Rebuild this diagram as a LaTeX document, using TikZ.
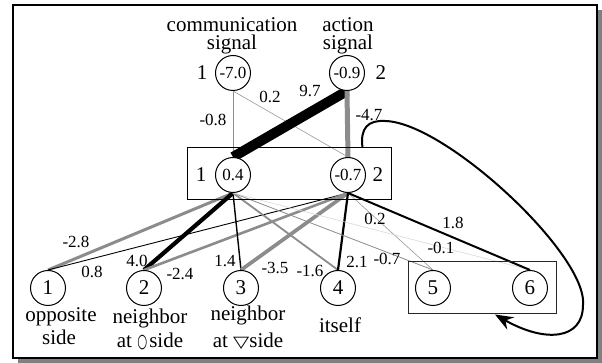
\documentclass[tikz,border=0pt]{standalone}
\usepackage{fontspec}
\setmainfont{Liberation Serif}
\newfontfamily\symfont{DejaVu Sans}
\usetikzlibrary{arrows.meta}
\pgfdeclarelayer{frame}
\pgfdeclarelayer{edges}
\pgfsetlayers{frame,edges,main}
\begin{document}
\begin{tikzpicture}[x=0.5pt,y=-0.5pt,
  neuron/.style={circle,draw,line width=0.5pt,fill=white,minimum size=17.5pt,
    inner sep=0pt,font=\fontsize{8.5}{10}\selectfont},
  inneuron/.style={neuron,font=\fontsize{10.5}{12}\selectfont},
  idx/.style={inner sep=0pt,font=\fontsize{10.5}{12}\selectfont},
  wlabel/.style={inner sep=0pt,font=\fontsize{8.5}{10}\selectfont},
  caption/.style={anchor=base,inner sep=0pt,font=\fontsize{10.5}{12}\selectfont},
  group/.style={draw,line width=0.5pt,inner sep=0pt,minimum height=26pt},
  pos/.style={draw=black,line width=#1},
  neg/.style={draw=black!45,line width=#1},
]
\useasboundingbox (0,0) rectangle (602,363);

% frame with drop shadow
\begin{pgfonlayer}{frame}
  \fill[black!50] (18,10) rectangle (602,363);
  \draw[line width=1pt,fill=white] (13,5) rectangle (597,358);
\end{pgfonlayer}

% group boxes
\node[group,minimum width=102pt] (hbox) at (290,174) {};
\node[group,minimum width=74pt,draw=black!85] (ibox) at (483,288) {};

% output units
\node[neuron] (c) at (233,73) {-7.0};
\node[neuron] (a) at (347,73) {-0.9};
\node[idx] (cn) at (202,73) {1};
\node[idx] (an) at (381,73) {2};
\node[caption] (ct1) at (232,32) {communication};
\node[caption] (ct2) at (232,50) {signal};
\node[caption] (at1) at (348,32) {action};
\node[caption] (at2) at (348,50) {signal};

% hidden units
\node[neuron] (h1) at (233,175) {0.4};
\node[neuron] (h2) at (348,175) {-0.7};
\node[idx] (h1n) at (201,175) {1};
\node[idx] (h2n) at (378,175) {2};

% input units
\node[inneuron] (i1) at (48,288) {1};
\node[inneuron] (i2) at (144,288) {2};
\node[inneuron] (i3) at (241,288) {3};
\node[inneuron] (i4) at (338,288) {4};
\node[inneuron] (i5) at (433,288) {5};
\node[inneuron] (i6) at (530,288) {6};

\node[caption] (d1a) at (61,322) {opposite};
\node[caption] (d1b) at (59,345) {side};
\node[caption] (d2a) at (150,324) {neighbor};
\node[caption] (d2b) at (150,348) {at {\symfont\fontsize{9.5}{10}\selectfont\scalebox{0.6}[1]{○}}\kern1pt side};
\node[caption] (d3a) at (248,321) {neighbor};
\node[caption] (d3b) at (248,348) {at {\symfont\fontsize{10}{10}\selectfont\scalebox{1.05}[0.8]{▽}}side};
\node[caption] (d4) at (340,333) {itself};

% weighted connections
\begin{pgfonlayer}{edges}
  \draw[neg=0.45pt] (c.south) -- (h1.north);
  \draw[draw=black!40,line width=0.3pt] (c.south) -- (h2.north);
  \draw[pos=5pt] (a.south) -- (h1.north);
  \draw[neg=2.5pt] (a.south) -- (h2.north);

  \draw[neg=1.5pt] (h1.south) -- (i1.north);
  \draw[pos=0.45pt] (h2.south) -- (i1.north);
  \draw[pos=2.1pt] (h1.south) -- (i2.north);
  \draw[neg=1.3pt] (h2.south) -- (i2.north);
  \draw[pos=0.7pt] (h1.south) -- (i3.north);
  \draw[neg=1.85pt] (h2.south) -- (i3.north);
  \draw[neg=0.9pt] (h1.south) -- (i4.north);
  \draw[pos=1.1pt] (h2.south) -- (i4.north);
  \draw[neg=0.4pt] (h1.south) -- (i5.north);
  \draw[draw=black!40,line width=0.3pt] (h2.south) -- (i5.north);
  \draw[draw=black!15,line width=0.3pt] (h1.south) -- (i6.north);
  \draw[pos=1pt] (h2.south) -- (i6.north);
\end{pgfonlayer}

% weight labels
\node[wlabel] (w1) at (213,120) {-0.8};
\node[wlabel] (w2) at (270,97) {0.2};
\node[wlabel] (w3) at (310,91) {9.7};
\node[wlabel] (w4) at (369,115) {-4.7};
\node[wlabel] (w5) at (76,242) {-2.8};
\node[wlabel] (w6) at (92,272) {0.8};
\node[wlabel] (w7) at (137,261) {4.0};
\node[wlabel] (w8) at (180,274) {-2.4};
\node[wlabel] (w9) at (225,261) {1.4};
\node[wlabel] (w10) at (275,268) {-3.5};
\node[wlabel] (w11) at (310,271) {-1.6};
\node[wlabel] (w12) at (357,262) {2.1};
\node[wlabel] (w13) at (375,219) {0.2};
\node[wlabel] (w14) at (387,259) {-0.7};
\node[wlabel] (w15) at (441,248) {-0.1};
\node[wlabel] (w16) at (453,223) {1.8};

% recurrent copy of the hidden layer into the context units
\draw[line width=1pt,-{Stealth[length=9pt,width=7pt,inset=3pt]}]
  ([xshift=-15pt]hbox.north east)
  .. controls (360,128) and (368,120) .. (385,121)
  .. controls (445,122) and (588,255) .. (583,305)
  .. controls (583,340) and (545,343) .. ([xshift=6pt]ibox.south);
\end{tikzpicture}
\end{document}
